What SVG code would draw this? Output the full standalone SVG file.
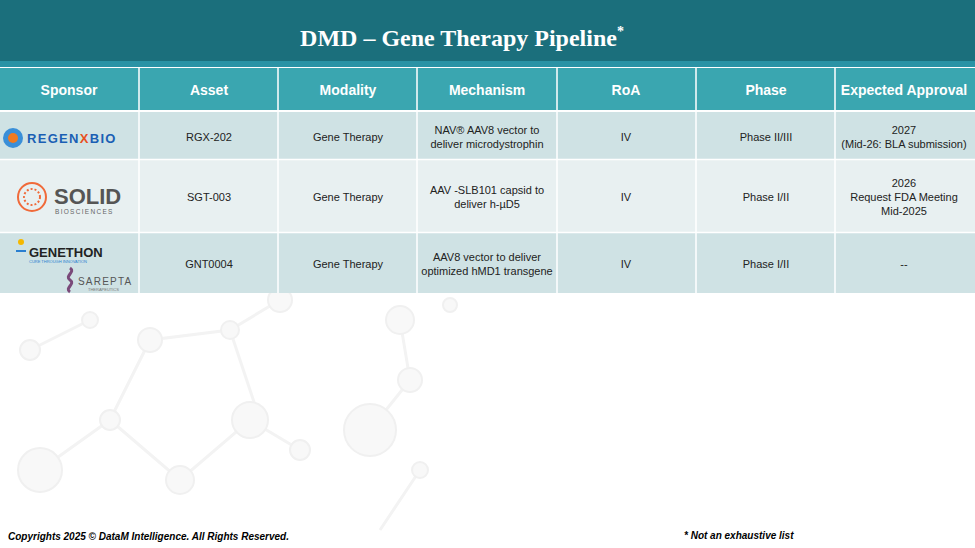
<svg xmlns="http://www.w3.org/2000/svg" width="975" height="548" viewBox="0 0 975 548">
<style>
.h{font-family:"Liberation Sans",Arial,sans-serif;font-weight:bold;font-size:14px;fill:#fff;text-anchor:middle}
.c{font-family:"Liberation Sans",Arial,sans-serif;font-size:11px;fill:#222;text-anchor:middle}
.m{stroke:#f3f3f3;stroke-width:3;fill:none}
.mc{fill:#f8f8f8;stroke:#f0f0f0;stroke-width:2}
</style>
<rect width="975" height="548" fill="#fff"/>
<g id="molecules">
<path class="m" d="M40 470L110 420L180 480L250 420L300 450M110 420L150 340L230 330L280 300M230 330L260 420M370 430L410 380L400 320M420 470L380 530M90 320L30 350"/>
<circle class="mc" cx="40" cy="470" r="22"/><circle class="mc" cx="110" cy="420" r="10"/><circle class="mc" cx="180" cy="480" r="14"/><circle class="mc" cx="250" cy="420" r="18"/><circle class="mc" cx="300" cy="450" r="10"/><circle class="mc" cx="150" cy="340" r="12"/><circle class="mc" cx="230" cy="330" r="9"/><circle class="mc" cx="280" cy="300" r="12"/><circle class="mc" cx="400" cy="320" r="14"/><circle class="mc" cx="410" cy="380" r="12"/><circle class="mc" cx="370" cy="430" r="26"/><circle class="mc" cx="420" cy="470" r="8"/><circle class="mc" cx="90" cy="320" r="8"/><circle class="mc" cx="30" cy="350" r="10"/><circle class="mc" cx="450" cy="305" r="7"/>
</g>
<g id="header">
<rect x="0" y="0" width="975" height="61" fill="#1B6F7C"/>
<rect x="0" y="61" width="975" height="6" fill="#2A93A5"/>
<text x="462" y="46" font-family="Liberation Serif,serif" font-weight="bold" font-size="24" fill="#fff" text-anchor="middle">DMD – Gene Therapy Pipeline<tspan font-size="14" dy="-10">*</tspan></text>
</g>
<g id="table">
<rect x="0" y="68" width="975" height="42" fill="#3AA6B0"/>
<rect x="0" y="112" width="975" height="47" fill="#CFE2E4"/>
<rect x="0" y="160" width="975" height="72" fill="#E8F0F1"/>
<rect x="0" y="233" width="975" height="60" fill="#CFE2E4"/>
<g stroke="#fff" stroke-width="1.5">
<path d="M139 68V293M278 68V293M417 68V293M557 68V293M696 68V293M835 68V293M0 111H975M0 159.5H975M0 232.5H975"/>
</g>
<text class="h" x="69" y="95">Sponsor</text><text class="h" x="209" y="95">Asset</text><text class="h" x="348" y="95">Modality</text><text class="h" x="487" y="95">Mechanism</text><text class="h" x="626" y="95">RoA</text><text class="h" x="766" y="95">Phase</text><text class="h" x="904" y="95">Expected Approval</text>
<text class="c" x="209" y="141">RGX-202</text><text class="c" x="348" y="141">Gene Therapy</text>
<text class="c" x="487" y="134">NAV® AAV8 vector to</text><text class="c" x="487" y="148">deliver microdystrophin</text>
<text class="c" x="626" y="141">IV</text><text class="c" x="766" y="141">Phase II/III</text>
<text class="c" x="904" y="134">2027</text><text class="c" x="904" y="148">(Mid-26: BLA submission)</text>
<text class="c" x="209" y="201">SGT-003</text><text class="c" x="348" y="201">Gene Therapy</text>
<text class="c" x="487" y="194">AAV -SLB101 capsid to</text><text class="c" x="487" y="208">deliver h-µD5</text>
<text class="c" x="626" y="201">IV</text><text class="c" x="766" y="201">Phase I/II</text>
<text class="c" x="904" y="187">2026</text><text class="c" x="904" y="201">Request FDA Meeting</text><text class="c" x="904" y="215">Mid-2025</text>
<text class="c" x="209" y="268">GNT0004</text><text class="c" x="348" y="268">Gene Therapy</text>
<text class="c" x="487" y="261">AAV8 vector to deliver</text><text class="c" x="487" y="275">optimized hMD1 transgene</text>
<text class="c" x="626" y="268">IV</text><text class="c" x="766" y="268">Phase I/II</text><text class="c" x="904" y="268">--</text>
</g>
<g id="logo-regenxbio">
<circle cx="13" cy="138" r="10" fill="#3a8fd8"/><circle cx="13" cy="138" r="5" fill="#f07a20"/>
<text x="27" y="143" font-family="Liberation Sans,sans-serif" font-weight="bold" font-size="13" fill="#1a5fb4" letter-spacing="1.3">REGEN<tspan fill="#e85020">X</tspan>BIO</text>
</g>
<g id="logo-solid">
<circle cx="32" cy="197" r="14" fill="none" stroke="#f06a3a" stroke-width="2"/><circle cx="32" cy="197" r="8" fill="none" stroke="#f06a3a" stroke-width="2" stroke-dasharray="2 2"/>
<text x="54" y="204" font-family="Liberation Sans,sans-serif" font-weight="bold" font-size="22" fill="#555">SOLID</text>
<text x="55" y="214" font-family="Liberation Sans,sans-serif" font-size="6.5" fill="#666" letter-spacing="1.3">BIOSCIENCES</text>
</g>
<g id="logo-genethon">
<circle cx="21" cy="242" r="3" fill="#f5b800"/><rect x="16" y="250" width="10" height="2" fill="#2a7fd0"/>
<text x="29" y="257" font-family="Liberation Sans,sans-serif" font-weight="bold" font-size="13" fill="#222">GENETHON</text>
<text x="29" y="263" font-family="Liberation Sans,sans-serif" font-size="4" fill="#2a7fd0">CURE THROUGH INNOVATION</text>
<path d="M70 268c6 4-6 8 0 12s-6 8 0 12" stroke="#7a4a7a" stroke-width="3" fill="none"/>
<text x="78" y="285" font-family="Liberation Sans,sans-serif" font-size="10" fill="#555" letter-spacing="1.2">SAREPTA</text>
<text x="88" y="291" font-family="Liberation Sans,sans-serif" font-size="4" fill="#777">THERAPEUTICS</text>
</g>
<g id="footer" font-family="Liberation Sans,sans-serif" font-style="italic" font-weight="bold" font-size="10" fill="#000">
<text x="8" y="540">Copyrights 2025 © DataM Intelligence. All Rights Reserved.</text>
<text x="684" y="539">* Not an exhaustive list</text>
</g>
</svg>
